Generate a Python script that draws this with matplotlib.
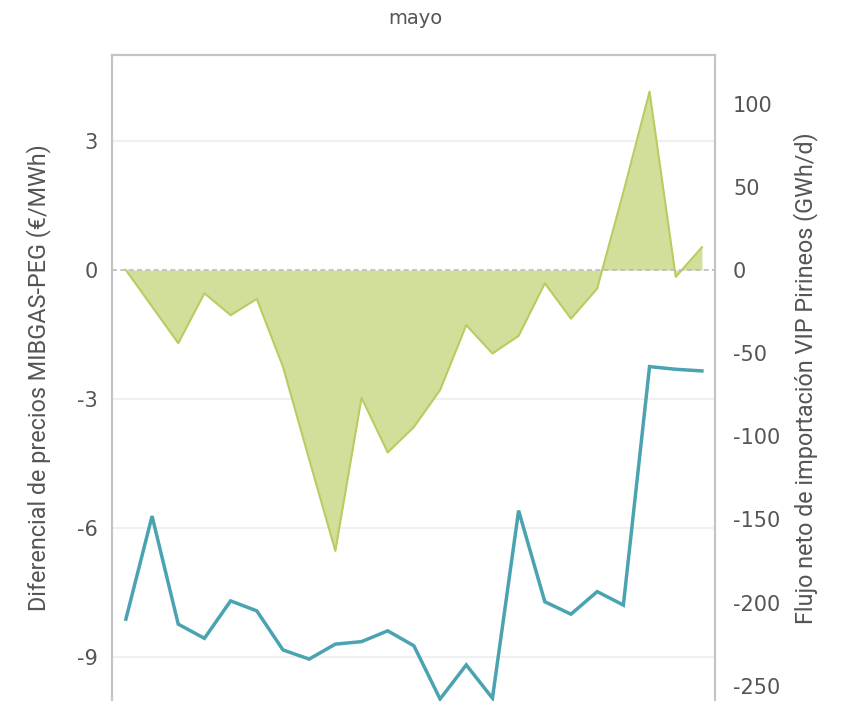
import matplotlib.pyplot as plt

# Datos (mayo, días hábiles)
dias = list(range(23))

# Diferencial de precios MIBGAS-PEG (€/MWh)
diferencial = [0.0, -0.85, -1.70, -0.54, -1.05, -0.67, -2.25, -4.40, -6.53,
               -2.97, -4.24, -3.65, -2.79, -1.28, -1.94, -1.53, -0.31, -1.13,
               -0.43, 1.81, 4.15, -0.16, 0.53]

# Flujo neto de importación VIP Pirineos (GWh/d)
flujo = [-210, -148, -213, -221.5, -199, -205, -228.5, -234, -225, -223.5,
         -217, -226, -258, -237.5, -257.5, -144.7, -199.5, -207, -193.4,
         -201.5, -58.1, -59.7, -60.7]

ticks_izq = [3, 0, -3, -6, -9]
ticks_der = [100, 50, 0, -50, -100, -150, -200, -250]

gris = "#555555"
verde_relleno = "#d2df9a"
verde_borde = "#b7cd62"
azul = "#4aa3b0"

fig = plt.figure(figsize=(8.41, 7.01), dpi=100)
ax = fig.add_axes([112 / 841, 0, (715 - 112) / 841, (701 - 55) / 701])
ax2 = ax.twinx()

# area del diferencial
ax.fill_between(dias, diferencial, 0, color=verde_relleno, lw=0, zorder=2)
ax.plot(dias, diferencial, color=verde_borde, lw=1.5, zorder=3)
ax.axhline(0, color="#bbbbbb", lw=1.2, ls=(0, (3, 2)), zorder=4)
for t in ticks_izq:
    if t != 0:
        ax.axhline(t, color="#f0f0f0", lw=1.5, zorder=1)

# linea del flujo
ax2.plot(dias, flujo, color=azul, lw=2.5, solid_joinstyle="miter", zorder=5)

ax.set_xlim(-0.53, 22.5)
ax.set_ylim(-10.02, 5.0)
ax2.set_ylim(-259.2, 129.3)

ax.set_yticks(ticks_izq)
ax.set_yticklabels([str(t) for t in ticks_izq])
ax2.set_yticks(ticks_der)
ax2.set_yticklabels([str(t) for t in ticks_der])
ax.set_xticks([])

for a in (ax, ax2):
    a.tick_params(axis="y", length=0, labelsize=15, labelcolor=gris)
    for s in a.spines.values():
        s.set_color("#c4c4c4")
        s.set_linewidth(1.5)
    a.spines["bottom"].set_visible(False)
    a.patch.set_visible(False)
ax.tick_params(axis="y", pad=10)
ax2.tick_params(axis="y", pad=13)

fuente_eje = ["Roboto", "DejaVu Sans"]
ax.set_ylabel("Diferencial de precios MIBGAS-PEG (€/MWh)", fontsize=16.8,
              color=gris, family=fuente_eje, labelpad=19)
ax2.set_ylabel("Flujo neto de importación VIP Pirineos (GWh/d)", fontsize=16.8,
               color=gris, family=fuente_eje, labelpad=9)

fig.text(415 / 841, 1 - 18 / 701, "mayo", ha="center", va="center",
         fontsize=14, color=gris)

fig.savefig("out.png", dpi=100)
